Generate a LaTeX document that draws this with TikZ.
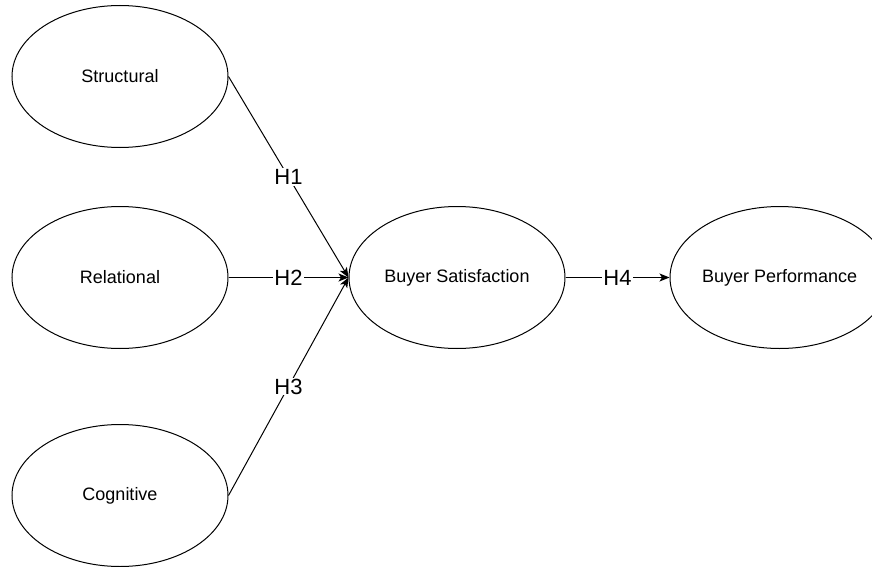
\documentclass[tikz,border=0pt]{standalone}
\usepackage{fontspec}
\setmainfont{Liberation Sans}
\usepackage{tikz}
\usetikzlibrary{arrows.meta,positioning,shapes}

\begin{document}
\begin{tikzpicture}[
                every node/.style={font=\fontsize{18}{20}\selectfont},
                construct/.style={draw, ellipse, line width=1pt, inner sep=0pt, minimum width=216pt, minimum height=142pt},
                link/.style={-{Stealth[length=10pt, width=8pt, inset=2.5pt]}, line width=1pt},
                hlabel/.style={font=\fontsize{22}{24}\selectfont, fill=white, inner sep=1pt}
            ]
                \useasboundingbox (0pt,0pt) rectangle (872pt,-567pt);

                % Antecedents (left column)
                \node[construct] (relational) at (120pt,-277.5pt) {Relational};
                \node[construct, above=58pt of relational] (structural) {Structural};
                \node[construct, below=75pt of relational] (cognitive) {Cognitive};

                % Outcomes
                \node[construct, right=120pt of relational] (satisfaction) {Buyer Satisfaction};
                \node[construct, right=104pt of satisfaction] (performance) {Buyer Performance};

                % Hypotheses
                \draw[link] (structural.east) -- node[hlabel]{H1} (satisfaction.west);
                \draw[link] (relational.east) -- node[hlabel]{H2} (satisfaction.west);
                \draw[link] (cognitive.east) -- node[hlabel]{H3} (satisfaction.west);
                \draw[link] (satisfaction.east) -- node[hlabel]{H4} (performance.west);

            \end{tikzpicture}
\end{document}
